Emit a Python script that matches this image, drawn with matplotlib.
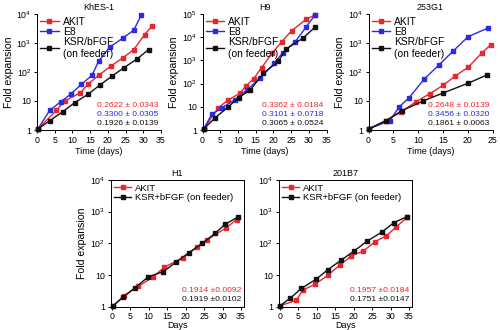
import math
import matplotlib
matplotlib.use("Agg")
import matplotlib.pyplot as plt
from matplotlib.ticker import FuncFormatter, LogLocator, NullLocator

plt.rcParams['font.family'] = ['Liberation Sans', 'DejaVu Sans']
plt.rcParams['mathtext.fontset'] = 'custom'
plt.rcParams['mathtext.rm'] = 'Liberation Sans'
plt.rcParams['mathtext.it'] = 'Liberation Sans:italic'
plt.rcParams['axes.linewidth'] = 0.7

RED = '#e8262b'
BLUE = '#2b2be6'
BLACK = '#111111'

# KhES-1
khes_akit_d = [0.3, 5.5, 7.8, 12.2, 14.4, 17.5, 20.8, 24.3, 27.3, 30.4, 32.5]
khes_akit_v = [1.1, 4.8, 10, 19, 38, 78, 158, 307, 590, 1940, 3880]
khes_e8_d = [0.3, 3.6, 6.7, 9.7, 12.5, 15.5, 17.4, 20.5, 24.3, 27.3, 29.4]
khes_e8_v = [1.1, 4.8, 9.4, 18, 37, 76, 235, 710, 1480, 2750, 8900]
khes_ksr_d = [0.3, 3.6, 7.3, 10.6, 14.4, 17.7, 21.2, 24.5, 28.3, 31.5]
khes_ksr_v = [1.1, 2.1, 4.3, 8.7, 17, 35, 72, 139, 283, 590]

# H9
h9_akit_d = [0.3, 4.5, 7.3, 10.6, 12.2, 14.4, 16.7, 19.6, 22.4, 25.2, 29.3, 31.8]
h9_akit_v = [1.1, 9.2, 20, 38, 79, 158, 490, 2000, 6400, 19000, 59000, 91000]
h9_e8_d = [0.3, 2.6, 5.5, 9.2, 12.5, 16.3, 20.2, 22.7, 26.2, 29.3, 31.8]
h9_e8_v = [1.1, 4.7, 9.2, 20, 53, 170, 750, 2150, 6400, 28000, 91000]
h9_ksr_d = [0.3, 3.6, 7.3, 10.2, 13.5, 17.2, 21.4, 23.5, 28.3, 31.8]
h9_ksr_v = [1.1, 3.4, 10, 25, 53, 280, 890, 3000, 8900, 27000]

# 253G1
g1_akit_d = [0.1, 3.5, 6.5, 9.6, 12.4, 15.1, 17.5, 20.1, 22.8, 24.6]
g1_akit_v = [1.1, 2.1, 4.1, 9.5, 18, 35, 73, 145, 440, 850]
g1_e8_d = [0.1, 4.3, 6.2, 8.2, 11.2, 14.2, 17.1, 20.1, 24.0]
g1_e8_v = [1.1, 2.1, 6.3, 13, 56, 174, 530, 1650, 3200]
g1_ksr_d = [0.1, 3.5, 6.7, 11.0, 15.1, 20.1, 23.9]
g1_ksr_v = [1.1, 2.1, 4.6, 10, 19, 41, 79]

# H1
h1_akit_d = [0.5, 3.3, 7.2, 11.2, 14.3, 19.3, 23.0, 25.8, 30.8, 33.8]
h1_akit_v = [1.1, 2.2, 4.4, 8.8, 18, 35, 75, 130, 300, 560]
h1_ksr_d = [0.5, 3.0, 6.3, 9.9, 14.0, 17.3, 20.9, 24.5, 28.0, 30.7, 34.3]
h1_ksr_v = [1.1, 2.0, 4.0, 8.8, 13, 25, 51, 100, 208, 400, 690]

# 201B7
b7_akit_d = [0.2, 4.5, 6.3, 9.5, 13.1, 16.3, 19.4, 22.6, 25.8, 28.8, 31.6, 34.5]
b7_akit_v = [1.1, 1.6, 3.4, 5.1, 10, 21, 40, 57, 113, 170, 335, 660]
b7_ksr_d = [0.2, 2.9, 5.9, 9.9, 13.1, 16.7, 20.1, 23.7, 27.8, 30.9, 34.4]
b7_ksr_v = [1.1, 1.9, 3.8, 7.5, 15, 30, 57, 118, 233, 450, 690]

top_titles = ['KhES-1', 'H9', '253G1']
top_stats = [['0.2622 ± 0.0343', '0.3300 ± 0.0305', '0.1926 ± 0.0139'],
             ['0.3362 ± 0.0184', '0.3101 ± 0.0718', '0.3065 ± 0.0524'],
             ['0.2648 ± 0.0139', '0.3456 ± 0.0320', '0.1861 ± 0.0063']]
bottom_titles = ['H1', '201B7']
bottom_stats = [['0.1914 ±0.0092', '0.1919 ±0.0102'],
                ['0.1957 ±0.0184', '0.1751 ±0.0147']]


def fold_fmt(v, pos):
    if v == 1:
        return '1'
    if v == 10:
        return '10'
    return r'$10^{%d}$' % int(round(math.log10(v)))


def style_axis(ax, top):
    ax.set_yscale('log')
    ax.set_ylim(1, 10 ** top)
    ax.yaxis.set_major_locator(LogLocator(base=10, numticks=10))
    ax.yaxis.set_minor_locator(NullLocator())
    ax.yaxis.set_major_formatter(FuncFormatter(fold_fmt))
    ax.tick_params(labelsize=6.3, length=2.5, width=0.7, pad=1.5)


def draw(ax, d, v, color, label):
    ax.plot(d, v, '-s', color=color, lw=1.0, ms=3.0, label=label, clip_on=False)


fig = plt.figure(figsize=(5.0, 3.3), dpi=100)

# top row
top_data = [
    (khes_akit_d, khes_akit_v, khes_e8_d, khes_e8_v, khes_ksr_d, khes_ksr_v, 4, 35),
    (h9_akit_d, h9_akit_v, h9_e8_d, h9_e8_v, h9_ksr_d, h9_ksr_v, 5, 35),
    (g1_akit_d, g1_akit_v, g1_e8_d, g1_e8_v, g1_ksr_d, g1_ksr_v, 4, 25),
]
lefts = [0.074, 0.405, 0.737]
for i, (ad, av, ed, ev, kd, kv, top, xmax) in enumerate(top_data):
    ax = fig.add_axes([lefts[i], 0.606, 0.248, 0.352])
    draw(ax, ad, av, RED, 'AKIT')
    draw(ax, ed, ev, BLUE, 'E8')
    draw(ax, kd, kv, BLACK, 'KSR/bFGF\n(on feeder)')
    style_axis(ax, top)
    ax.set_xlim(0, xmax)
    ax.set_xticks(range(0, xmax + 1, 5))
    ax.spines['top'].set_visible(False)
    ax.spines['right'].set_visible(False)
    ax.set_title(top_titles[i], fontsize=6.5, pad=3)
    ax.set_xlabel('Time (days)', fontsize=6.5, labelpad=2)
    ax.set_ylabel('Fold expansion', fontsize=7.6, labelpad=2)
    ax.legend(loc='upper left', fontsize=7.4, frameon=False, handlelength=1.8,
              handletextpad=0.4, labelspacing=0.0, borderaxespad=0.1,
              borderpad=0.2)
    for j, (txt, c) in enumerate(zip(top_stats[i], [RED, BLUE, BLACK])):
        ax.text(0.975, 0.207 - j * 0.074, txt, transform=ax.transAxes,
                ha='right', va='center', fontsize=6.1, color=c)

# bottom row
bottom_data = [
    (h1_akit_d, h1_akit_v, h1_ksr_d, h1_ksr_v),
    (b7_akit_d, b7_akit_v, b7_ksr_d, b7_ksr_v),
]
blefts = [0.221, 0.557]
for i, (ad, av, kd, kv) in enumerate(bottom_data):
    ax = fig.add_axes([blefts[i], 0.070, 0.267, 0.385])
    draw(ax, ad, av, RED, 'AKIT')
    draw(ax, kd, kv, BLACK, 'KSR+bFGF (on feeder)')
    style_axis(ax, 4)
    ax.set_xlim(-0.3, 35.8)
    ax.set_xticks(range(0, 36, 5))
    ax.set_title(bottom_titles[i], fontsize=6.5, pad=3)
    ax.set_xlabel('Days', fontsize=6.5, labelpad=0)
    if i == 0:
        ax.set_ylabel('Fold expansion', fontsize=7.6, labelpad=2)
    ax.legend(loc='upper left', fontsize=6.8, frameon=False, handlelength=1.8,
              handletextpad=0.4, labelspacing=0.05, borderaxespad=0.2,
              borderpad=0.2)
    for j, (txt, c) in enumerate(zip(bottom_stats[i], [RED, BLACK])):
        ax.text(0.977, 0.126 - j * 0.065, txt, transform=ax.transAxes,
                ha='right', va='center', fontsize=6.1, color=c)

plt.savefig('out.png', dpi=100)
